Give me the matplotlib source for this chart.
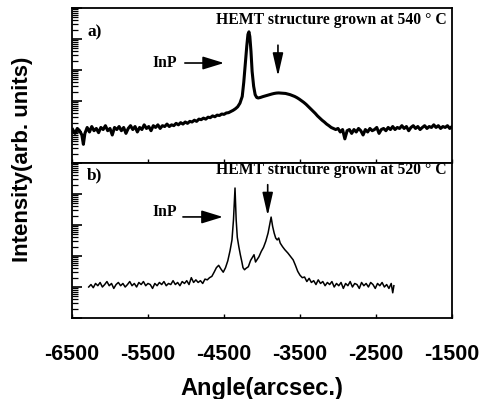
import matplotlib.pyplot as plt
from matplotlib.ticker import FixedLocator, LogLocator, NullFormatter

# panel a: HEMT grown at 540 C
angle_a = [
    -6490, -6460, -6430, -6400, -6370, -6350, -6330, -6300, -6270, -6240,
    -6210, -6180, -6150, -6120, -6090, -6060, -6030, -6000, -5970, -5940,
    -5910, -5880, -5850, -5820, -5790, -5760, -5730, -5700, -5670, -5640,
    -5610, -5580, -5550, -5520, -5490, -5460, -5430, -5400, -5370, -5340,
    -5310, -5280, -5250, -5220, -5190, -5160, -5130, -5100, -5070, -5040,
    -5010, -4980, -4950, -4920, -4890, -4860, -4830, -4800, -4770, -4740,
    -4710, -4680, -4650, -4620, -4590, -4560, -4530, -4500, -4470, -4440,
    -4410, -4380, -4350, -4320, -4290, -4260, -4240, -4220, -4200, -4185,
    -4172, -4160, -4145, -4130, -4110, -4090, -4070, -4050, -4020, -3990,
    -3960, -3930, -3900, -3870, -3840, -3810, -3780, -3750, -3720, -3690,
    -3660, -3630, -3600, -3570, -3540, -3510, -3480, -3450, -3420, -3390,
    -3360, -3330, -3300, -3270, -3240, -3210, -3180, -3150, -3120, -3090,
    -3060, -3030, -3000, -2970, -2940, -2910, -2880, -2850, -2820, -2790,
    -2760, -2730, -2700, -2670, -2640, -2610, -2580, -2550, -2520, -2490,
    -2460, -2430, -2400, -2370, -2340, -2310, -2280, -2250, -2220, -2190,
    -2160, -2130, -2100, -2070, -2040, -2010, -1980, -1950, -1920, -1890,
    -1860, -1830, -1800, -1770, -1740, -1710, -1680, -1650, -1620, -1590,
    -1560, -1530, -1500,
]
intensity_a = [
    12, 9, 13, 11, 8, 4, 9, 14, 10, 15,
    11, 13, 9.5, 14, 12, 16, 11, 13, 8, 14,
    12, 15, 11, 14, 9, 13, 16, 12, 15, 10,
    14, 12, 17, 13, 15, 11, 16, 14, 17, 13,
    16, 15, 18, 15, 17, 16, 19, 17, 20, 18,
    21, 19, 22, 21, 24, 22, 26, 25, 28, 26,
    30, 29, 33, 31, 35, 34, 38, 37, 41, 42,
    46, 50, 56, 65, 85, 140, 400, 1600, 6000, 14000,
    17000, 12000, 4000, 900, 300, 160, 130, 125, 130, 138,
    145, 152, 160, 168, 175, 180, 182, 180, 178, 175,
    168, 160, 150, 140, 128, 115, 102, 90, 78, 66,
    56, 47, 40, 33, 28, 24, 21, 18, 16, 14,
    13, 12, 13, 10, 12, 6, 11, 12, 9, 12,
    10, 13, 11, 8, 12, 10, 13, 11, 12, 14,
    9, 12, 13, 11, 14, 12, 15, 12, 14, 13,
    16, 13, 15, 11, 14, 16, 13, 15, 12, 14,
    16, 13, 15, 14, 17, 14, 16, 13, 15, 14,
    16, 13, 15,
]

# panel b: HEMT grown at 520 C
angle_b = [
    -6280, -6250, -6220, -6190, -6160, -6130, -6100, -6070, -6040, -6010,
    -5980, -5950, -5920, -5890, -5860, -5830, -5800, -5770, -5740, -5710,
    -5680, -5650, -5620, -5590, -5560, -5530, -5500, -5470, -5440, -5410,
    -5380, -5350, -5320, -5290, -5260, -5230, -5200, -5170, -5140, -5110,
    -5080, -5050, -5020, -4990, -4960, -4930, -4900, -4870, -4840, -4810,
    -4780, -4750, -4720, -4690, -4660, -4630, -4600, -4570, -4540, -4510,
    -4480, -4450, -4420, -4395, -4375, -4355, -4340, -4325, -4305, -4285,
    -4265, -4250, -4230, -4210, -4180, -4150, -4120, -4105, -4085, -4060,
    -4040, -4010, -3980, -3950, -3920, -3900, -3880, -3860, -3840, -3820,
    -3800, -3780, -3760, -3730, -3700, -3660, -3630, -3590, -3560, -3530,
    -3500, -3470, -3440, -3410, -3380, -3350, -3320, -3290, -3260, -3230,
    -3200, -3170, -3140, -3110, -3080, -3050, -3020, -2990, -2960, -2930,
    -2900, -2870, -2840, -2810, -2780, -2750, -2720, -2690, -2660, -2630,
    -2600, -2570, -2540, -2510, -2480, -2450, -2420, -2390, -2360, -2330,
    -2300, -2280, -2265,
]
intensity_b = [
    10, 12, 9.5, 13, 11, 14, 10, 12, 15, 11,
    13, 9, 12, 14, 11, 13, 10, 12, 15, 11,
    13, 10, 14, 12, 15, 11, 13, 12, 9, 13,
    11, 14, 12, 15, 11, 13, 12, 16, 12, 14,
    11, 15, 13, 16, 12, 20, 14, 17, 14, 16,
    13, 18, 17, 20, 22, 30, 42, 50, 38, 30,
    42, 70, 150, 330, 1500, 15600, 1500, 400, 200, 110,
    65, 42, 36, 40, 45, 72, 95, 110, 64, 80,
    95, 140, 190, 300, 550, 1000, 1800, 900, 550, 380,
    330, 380, 260, 200, 160, 125, 100, 75, 50, 32,
    24, 20, 21, 15, 19, 14, 16, 12, 17, 13,
    15, 11, 14, 12, 15, 10, 13, 11, 14, 9,
    13, 11, 15, 10, 13, 12, 9, 14, 11, 13,
    10, 14, 12, 9, 13, 11, 14, 10, 12, 9,
    13, 6.5, 11,
]

x_ticks = [-6500, -5500, -4500, -3500, -2500, -1500]
x_labels = ["-6500", "-5500", "-4500", "-3500", "-2500", "-1500"]

fig = plt.figure(figsize=(4.91, 3.99), dpi=100)
ax_a = fig.add_axes([0.1466, 0.5915, 0.774, 0.3885])
ax_b = fig.add_axes([0.1466, 0.2030, 0.774, 0.3885])

ax_a.plot(angle_a, intensity_a, color="black", lw=2.2)
ax_b.plot(angle_b, intensity_b, color="black", lw=1.1)

serif = dict(family="Liberation Serif", weight="bold", fontsize=11.3)
side_arrow = dict(arrowstyle="-|>,head_length=0.65,head_width=0.2",
                  mutation_scale=20, color="black", lw=1.2, shrinkA=0, shrinkB=0)
down_arrow = dict(arrowstyle="-|>,head_length=0.7,head_width=0.16",
                  mutation_scale=20, color="black", lw=1.2, shrinkA=0, shrinkB=0)

for ax in (ax_a, ax_b):
    ax.set_yscale("log")
    ax.set_ylim(1, 1e5)
    ax.set_xlim(-6500, -1500)
    ax.xaxis.set_major_locator(FixedLocator(x_ticks))
    ax.yaxis.set_major_locator(LogLocator(base=10, numticks=10))
    ax.yaxis.set_minor_locator(LogLocator(base=10, subs=range(2, 10), numticks=10))
    ax.yaxis.set_major_formatter(NullFormatter())
    ax.yaxis.set_minor_formatter(NullFormatter())
    ax.tick_params(axis="both", which="both", direction="in")
    ax.tick_params(axis="y", which="major", length=7, width=1.2)
    ax.tick_params(axis="y", which="minor", length=4, width=0.9)
    ax.tick_params(axis="x", which="major", length=3, width=1)
    for s in ax.spines.values():
        s.set_linewidth(1.3)

ax_a.tick_params(axis="x", labelbottom=False)
ax_b.set_xticklabels(x_labels)
ax_b.tick_params(axis="x", pad=19)
for lbl in ax_b.get_xticklabels():
    lbl.set_family("Liberation Sans")
    lbl.set_weight("bold")
    lbl.set_fontsize(15.5)

# panel a annotations
ax_a.text(0.04, 0.84, "a)", transform=ax_a.transAxes, va="center",
          family="Liberation Serif", weight="bold", fontsize=12.5)
ax_a.text(0.987, 0.92, "HEMT structure grown at 540 \u00b0 C",
          transform=ax_a.transAxes, ha="right", va="center", **serif)
ax_a.text(0.213, 0.645, "InP", transform=ax_a.transAxes, va="center", **serif)
ax_a.annotate("", xy=(0.40, 0.645), xytext=(0.297, 0.645),
              xycoords="axes fraction", arrowprops=side_arrow)
ax_a.annotate("", xy=(0.542, 0.56), xytext=(0.542, 0.76),
              xycoords="axes fraction", arrowprops=down_arrow)

# panel b annotations
ax_b.text(0.04, 0.92, "b)", transform=ax_b.transAxes, va="center",
          family="Liberation Serif", weight="bold", fontsize=12.5)
ax_b.text(0.987, 0.955, "HEMT structure grown at 520 \u00b0 C",
          transform=ax_b.transAxes, ha="right", va="center", **serif)
ax_b.text(0.213, 0.684, "InP", transform=ax_b.transAxes, va="center", **serif)
ax_b.annotate("", xy=(0.397, 0.652), xytext=(0.292, 0.652),
              xycoords="axes fraction", arrowprops=side_arrow)
ax_b.annotate("", xy=(0.515, 0.66), xytext=(0.515, 0.86),
              xycoords="axes fraction", arrowprops=down_arrow)

ax_b.set_xlabel("Angle(arcsec.)", family="Liberation Sans", weight="bold",
                fontsize=17, labelpad=8)
fig.text(0.045, 0.60, "Intensity(arb. units)", rotation=90, ha="center",
         va="center", family="Liberation Sans", weight="bold", fontsize=16)

fig.savefig("out.png", dpi=100)
